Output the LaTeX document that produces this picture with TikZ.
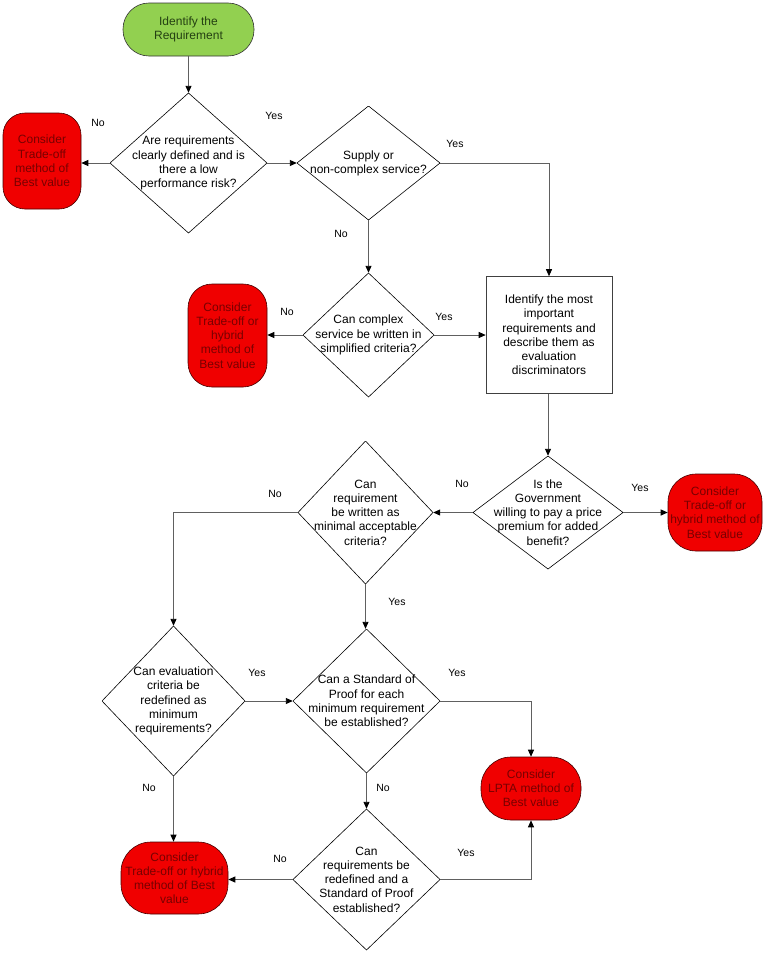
\documentclass[tikz,border=0pt]{standalone}
\usepackage{fontspec}
\setmainfont{Liberation Sans}
\usepackage{tikz}
\usetikzlibrary{arrows.meta}
\usepackage{xcolor}

\definecolor{startgreen}{RGB}{146,208,80}
\definecolor{starttext}{RGB}{36,64,18}
\definecolor{stopred}{RGB}{240,0,0}
\definecolor{stoptext}{RGB}{120,0,0}
\definecolor{stopborder}{RGB}{70,0,0}
\definecolor{linegray}{RGB}{96,96,96}

\tikzset{
  boxtext/.style={font=\fontsize{12}{14.2}\selectfont, align=center, inner sep=0pt},
  terminal/.style={boxtext, rectangle, rounded corners=#1, line width=0.6pt},
  terminal/.default=24pt,
  begin/.style={terminal=#1, draw=black!80, fill=startgreen, text=starttext},
  begin/.default=26pt,
  consider/.style={terminal=#1, draw=stopborder, fill=stopred, text=stoptext},
  consider/.default=24pt,
  process/.style={boxtext, rectangle, draw=black!75, line width=0.6pt, fill=white},
  decision/.style={boxtext, rectangle, fill=white,
    path picture={\draw[line width=0.6pt]
      (path picture bounding box.north) -- (path picture bounding box.east) --
      (path picture bounding box.south) -- (path picture bounding box.west) -- cycle;}},
  answer/.style={font=\fontsize{10.5}{12}\selectfont, inner sep=0pt},
  arrowline/.style={draw=linegray, line width=0.9pt,
    -{Triangle[length=7pt,width=6pt,color=black]}}
}

\begin{document}
\begin{tikzpicture}[x=1pt, y=-1pt]
	\useasboundingbox (0,0) rectangle (770,953);
	% Define nodes
	\node[begin, minimum width=131pt, minimum height=53pt]       (start) at (188.5,29.5) {Identify the\\Requirement};
	\node[decision, minimum width=157pt, minimum height=140pt]   (clear) at (188.5,163) {Are requirements\\clearly defined and is\\there a low\\performance risk?};
	\node[consider=22pt, minimum width=78pt, minimum height=96pt] (tradeA) at (42,161) {Consider\\Trade-off\\method of\\Best value};
	\node[decision, minimum width=143pt, minimum height=114pt]   (supply) at (368.5,163) {Supply or\\non-complex service?};
	\node[decision, minimum width=131pt, minimum height=124pt]   (complex) at (368.5,335) {Can complex\\service be written in\\simplified criteria?};
	\node[consider=24pt, minimum width=79pt, minimum height=103pt] (tradeB) at (227.5,335.5) {Consider\\Trade-off or\\hybrid\\method of\\Best value};
	\node[process, minimum width=126pt, minimum height=117pt]    (discr) at (549,335) {Identify the most\\important\\requirements and\\describe them as\\evaluation\\discriminators};
	\node[decision, minimum width=150pt, minimum height=113pt]   (premium) at (548,512.5) {Is the\\Government\\willing to pay a price\\premium for added\\benefit?};
	\node[consider=28pt, minimum width=94pt, minimum height=77pt] (tradeC) at (715,512.5) {Consider\\Trade-off or\\hybrid method of\\Best value};
	\node[decision, minimum width=135pt, minimum height=143pt]   (minimal) at (365.5,512.5) {Can\\requirement\\be written as\\minimal acceptable\\criteria?};
	\node[decision, minimum width=143pt, minimum height=150pt]   (redef) at (173.5,701) {Can evaluation\\criteria be\\redefined as\\minimum\\requirements?};
	\node[decision, minimum width=147pt, minimum height=144pt]   (proof) at (366.5,701) {Can a Standard of\\Proof for each\\minimum requirement\\be established?};
	\node[consider=30pt, minimum width=100pt, minimum height=63pt] (lpta) at (531,788.5) {Consider\\LPTA method of\\Best value};
	\node[consider=30pt, minimum width=107pt, minimum height=72pt] (tradeD) at (174.5,878) {Consider\\Trade-off or hybrid\\method of Best\\value};
	\node[decision, minimum width=147pt, minimum height=141pt]   (again) at (366.5,879.5) {Can\\requirements be\\redefined and a\\Standard of Proof\\established?};
	% Answers
	\node[answer] (noA)  at (98,123)  {No};
	\node[answer] (yesA) at (274,116) {Yes};
	\node[answer] (yesB) at (455,144) {Yes};
	\node[answer] (noB)  at (341,234) {No};
	\node[answer] (noC)  at (287,312) {No};
	\node[answer] (yesC) at (444,317) {Yes};
	\node[answer] (noD)  at (462,484) {No};
	\node[answer] (yesD) at (640,488) {Yes};
	\node[answer] (noE)  at (275,494) {No};
	\node[answer] (yesE) at (397,602) {Yes};
	\node[answer] (yesF) at (257,673) {Yes};
	\node[answer] (yesG) at (457,673) {Yes};
	\node[answer] (noF)  at (149,788) {No};
	\node[answer] (noG)  at (383,788) {No};
	\node[answer] (noH)  at (280,859) {No};
	\node[answer] (yesH) at (466,853) {Yes};
	% Connect the nodes
	\draw[arrowline] (start.south) -- (clear.north);
	\draw[arrowline] (clear.west) -- (clear.west -| tradeA.east);
	\draw[arrowline] (clear.east) -- (supply.west);
	\draw[arrowline] (supply.east) -| (discr.north);
	\draw[arrowline] (supply.south) -- (complex.north);
	\draw[arrowline] (complex.west) -- (complex.west -| tradeB.east);
	\draw[arrowline] (complex.east) -- (discr.west);
	\draw[arrowline] (discr.south -| premium.north) -- (premium.north);
	\draw[arrowline] (premium.east) -- (tradeC.west);
	\draw[arrowline] (premium.west) -- (minimal.east);
	\draw[arrowline] (minimal.west) -| (redef.north);
	\draw[arrowline] (minimal.south) -- (minimal.south |- proof.north);
	\draw[arrowline] (redef.east) -- (proof.west);
	\draw[arrowline] (proof.east) -| (lpta.north);
	\draw[arrowline] (redef.south) -- (redef.south |- tradeD.north);
	\draw[arrowline] (proof.south) -- (again.north);
	\draw[arrowline] (again.west) -- (again.west -| tradeD.east);
	\draw[arrowline] (again.east) -| (lpta.south);
\end{tikzpicture}
\end{document}
